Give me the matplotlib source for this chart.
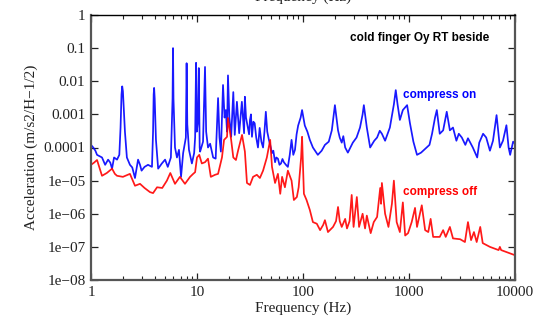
import matplotlib
matplotlib.use("Agg")
import matplotlib.pyplot as plt
from matplotlib.ticker import LogLocator, FixedLocator, FixedFormatter, NullFormatter

# Acceleration spectrum, compressor running
freq_on = [1.0, 1.05, 1.1, 1.14, 1.2, 1.27, 1.36, 1.45, 1.52, 1.58, 1.65, 1.76, 1.85,
           1.9, 1.94, 1.97, 2.0, 2.04, 2.09, 2.18, 2.33, 2.45, 2.6, 2.78, 2.9, 3.0, 3.2,
           3.45, 3.76, 3.85, 3.9, 3.94, 3.99, 4.1, 4.3, 4.66, 5.0, 5.3, 5.67, 5.88, 5.94,
           6.0, 6.2, 6.47, 6.76, 7.07, 7.4, 7.85, 7.98, 8.1, 8.4, 8.95, 9.4, 9.6, 9.8,
           9.95, 10.2, 10.4, 10.6, 10.7, 11.4, 11.9, 12.2, 12.7, 13.3, 14.2, 15.0, 15.8,
           16.3, 16.8, 17.6, 18.2, 18.7, 19.2, 19.6, 20.2, 21.0, 22.0, 22.7, 23.8, 25.0,
           26.5, 27.8, 28.3, 29.0, 30.2, 31.0, 31.6, 32.3, 33.0, 34.0, 35.0, 36.2, 37.6,
           39.0, 40.5, 42.0, 43.3, 44.6, 46.0, 47.7, 49.0, 51.0, 52.5, 54.5, 56.0, 58.0,
           60.0, 62.0, 64.0, 66.0, 69.0, 72.0, 75.0, 78.0, 81.0, 84.0, 87.0, 90.0, 95.0,
           98.0, 104.0, 110.0, 116.0, 124.0, 130.0, 138.0, 150.0, 161.0, 175.0, 187.0,
           195.0, 200.0, 207.0, 214.0, 222.0, 232.0, 240.0, 250.0, 265.0, 280.0, 295.0,
           320.0, 345.0, 365.0, 375.0, 385.0, 400.0, 430.0, 470.0, 500.0, 530.0, 555.0,
           595.0, 660.0, 720.0, 750.0, 780.0, 820.0, 875.0, 960.0, 1020.0, 1100.0,
           1190.0, 1300.0, 1470.0, 1560.0, 1650.0, 1760.0, 1830.0, 1950.0, 2100.0,
           2270.0, 2430.0, 2600.0, 2800.0, 2950.0, 3150.0, 3400.0, 3600.0, 4000.0,
           4400.0, 4600.0, 5000.0, 5350.0, 5800.0, 6200.0, 6700.0, 7200.0, 7700.0,
           8300.0, 8700.0, 9000.0, 9600.0, 10000.0]
accel_on = [1.2e-4, 1.0e-4, 8e-5, 6e-5, 5.5e-5, 5e-5, 3e-5, 4.3e-5, 3.5e-5, 2.3e-5, 5e-5,
            4.3e-5, 6e-5, 4e-4, 4e-3, 7e-3, 5e-3, 1.5e-3, 3e-4, 5e-5, 3e-5, 2.5e-5,
            1.2e-5, 4.3e-5, 3e-5, 2e-5, 2.6e-5, 3e-5, 2.6e-5, 3e-4, 4e-3, 6.3e-3, 3e-3,
            1.7e-4, 2.3e-5, 3.3e-5, 4.3e-5, 2.6e-5, 5e-5, 3e-3, 0.1, 3e-3, 1e-4, 5e-5,
            8.5e-5, 1.3e-5, 6.8e-5, 2e-4, 0.035, 5e-4, 8.5e-5, 3.3e-5, 6.8e-5, 2e-4,
            0.036, 3e-4, 6e-4, 0.025, 1e-4, 7.5e-5, 1.5e-4, 0.027, 3e-4, 1e-4, 1.3e-4,
            5e-5, 4.6e-5, 3.1e-3, 2e-4, 7.5e-5, 7.7e-3, 8e-4, 1.35e-3, 3e-4, 0.015, 8e-4,
            2.1e-4, 4.7e-3, 2.4e-4, 2.4e-3, 2.7e-4, 2.4e-3, 2.7e-4, 3.4e-3, 8e-4, 3.9e-4,
            2.5e-4, 6.8e-4, 1e-3, 2.1e-4, 6e-4, 5.4e-4, 2e-4, 1e-4, 3.9e-4, 1.5e-4, 1e-4,
            3e-4, 1.2e-3, 3e-4, 1.7e-4, 1.2e-4, 6.8e-5, 8e-5, 3.6e-5, 5e-5, 4.6e-5, 3e-5,
            3.3e-5, 4.5e-5, 3.6e-5, 3e-5, 2.6e-5, 6e-5, 1.7e-4, 6e-5, 8.5e-5, 2.5e-4,
            4.6e-4, 8e-4, 1.35e-3, 4.6e-4, 3e-4, 1.7e-4, 1e-4, 8e-5, 6e-5, 8e-5, 1.2e-4,
            1.5e-4, 3.3e-4, 1e-3, 1.9e-3, 8e-4, 3.3e-4, 2e-4, 1.4e-4, 2.2e-4, 1e-4, 7e-5,
            1e-4, 1.4e-4, 2e-4, 4e-4, 1e-3, 1.9e-3, 1e-3, 4e-4, 1e-4, 1.6e-4, 2e-4,
            3.2e-4, 2.6e-4, 1.6e-4, 4e-4, 2e-3, 5.4e-3, 2e-3, 6.8e-4, 1.35e-3, 1.9e-3,
            5.5e-4, 1.5e-4, 6e-5, 7e-5, 1e-4, 1.2e-4, 2.6e-4, 8e-4, 1.35e-3, 2.6e-4,
            3.3e-4, 1.2e-3, 3.3e-4, 4e-4, 1.6e-4, 2.6e-4, 2e-4, 1.2e-4, 1.9e-4, 1e-4,
            5e-5, 1.4e-4, 2.6e-4, 2e-4, 8e-5, 1.6e-4, 9.5e-4, 1e-4, 1.6e-4, 4.7e-4, 1e-4,
            6e-5, 1.5e-4, 1.3e-4]

# Acceleration spectrum, compressor stopped
freq_off = [1.0, 1.07, 1.14, 1.2, 1.27, 1.41, 1.58, 1.68, 1.76, 2.0, 2.33, 2.6, 2.9, 3.2,
            3.6, 3.85, 4.2, 4.7, 5.2, 5.6, 6.2, 6.9, 7.7, 8.6, 9.2, 9.6, 10.0, 10.5, 11.1,
            11.9, 12.7, 13.5, 14.8, 15.8, 17.2, 18.0, 19.2, 19.6, 21.0, 22.0, 23.3, 24.5,
            25.5, 26.6, 28.3, 29.6, 31.6, 33.8, 36.7, 39.2, 42.0, 45.6, 49.0, 51.0, 54.5,
            58.0, 61.0, 63.5, 67.5, 72.0, 78.0, 82.0, 87.5, 91.0, 96.0, 98.0, 100.0,
            102.0, 108.0, 116.0, 124.0, 135.0, 145.0, 155.0, 161.0, 172.0, 192.0, 205.0,
            214.0, 222.0, 232.0, 250.0, 260.0, 275.0, 288.0, 300.0, 322.0, 338.0, 365.0,
            385.0, 400.0, 435.0, 465.0, 500.0, 535.0, 545.0, 555.0, 595.0, 640.0, 690.0,
            720.0, 765.0, 820.0, 875.0, 920.0, 980.0, 1060.0, 1140.0, 1190.0, 1320.0,
            1420.0, 1520.0, 1600.0, 1690.0, 1950.0, 2100.0, 2220.0, 2430.0, 2600.0,
            3040.0, 3370.0, 3600.0, 3850.0, 4100.0, 4350.0, 4700.0, 4960.0, 5800.0,
            7000.0, 7200.0, 7400.0, 10000.0]
accel_off = [3e-5, 3.5e-5, 4.2e-5, 2.5e-5, 1.4e-5, 1.7e-5, 2.3e-5, 1.6e-5, 1.4e-5, 1.3e-5,
             1.6e-5, 7e-6, 8e-6, 6e-6, 4.5e-6, 4.2e-6, 6.3e-6, 6e-6, 1e-5, 1.7e-5, 8e-6,
             1.3e-5, 8e-6, 1.3e-5, 1.6e-5, 1.8e-5, 5e-5, 6e-5, 3.3e-5, 3.6e-5, 4.6e-5,
             1.3e-5, 1.5e-5, 1.6e-5, 5e-5, 1.7e-4, 2.1e-4, 7.8e-4, 1.7e-4, 5e-5, 4.2e-5,
             8.5e-5, 1.4e-4, 2.4e-4, 7.5e-5, 8.5e-6, 7.4e-6, 1.3e-5, 1.5e-5, 1.2e-5, 2e-5,
             5e-5, 1.7e-4, 2.6e-5, 8.5e-6, 1.6e-5, 4e-6, 1.3e-5, 6.3e-6, 2e-5, 1e-5,
             2.6e-6, 3.2e-6, 6.3e-6, 5e-5, 2.1e-4, 3e-5, 4e-6, 2.6e-6, 1.3e-6, 5.6e-7,
             5e-7, 3.2e-7, 4.6e-7, 6.4e-7, 2.8e-7, 4e-7, 6e-7, 1.6e-6, 6e-7, 4e-7, 7e-7,
             3.6e-7, 6e-7, 3.7e-6, 4e-7, 3.2e-6, 4e-7, 1e-6, 3.6e-7, 8.8e-7, 2.6e-7,
             5.6e-7, 8e-7, 6e-6, 2e-6, 8.5e-6, 1e-6, 4e-7, 2e-6, 1e-5, 5.6e-7, 2.8e-7,
             2.2e-6, 2.2e-7, 2.6e-7, 5.6e-7, 1.5e-6, 4e-7, 1.8e-6, 3.2e-7, 2.8e-7, 7e-7,
             2e-7, 2e-7, 3.2e-7, 2e-7, 4e-7, 1.8e-7, 1.7e-7, 1.4e-7, 5.6e-7, 1.6e-7,
             2.8e-7, 1.4e-7, 4e-7, 1.3e-7, 1e-7, 8e-8, 1e-7, 8e-8, 5.6e-8]

x_ticks = [1, 10, 100, 1000, 10000]
x_tick_labels = ["1", "10", "100", "1000", "10000"]
y_ticks = [1, 0.1, 0.01, 0.001, 0.0001, 1e-5, 1e-6, 1e-7, 1e-8]
y_tick_labels = ["1", "0.1", "0.01", "0.001", "0.0001",
                 "1e\u221205", "1e\u221206", "1e\u221207", "1e\u221208"]

serif = ["Liberation Serif", "DejaVu Serif"]
sans = ["Liberation Sans", "DejaVu Sans"]

fig = plt.figure(figsize=(5.37, 3.21), dpi=100)
ax = fig.add_axes([91 / 537, 1 - 280 / 321, (515 - 91) / 537, (280 - 15) / 321])

ax.plot(freq_on, accel_on, color="#0000ff", lw=1.25, alpha=0.9)
ax.plot(freq_off, accel_off, color="#ff0000", lw=1.25, alpha=0.9)

ax.set_xscale("log")
ax.set_yscale("log")
ax.set_xlim(1, 10000)
ax.set_ylim(1e-8, 1)

ax.xaxis.set_major_locator(FixedLocator(x_ticks))
ax.xaxis.set_major_formatter(FixedFormatter(x_tick_labels))
ax.xaxis.set_minor_locator(LogLocator(base=10, subs=range(2, 10)))
ax.xaxis.set_minor_formatter(NullFormatter())
ax.yaxis.set_major_locator(FixedLocator(y_ticks))
ax.yaxis.set_major_formatter(FixedFormatter(y_tick_labels))
ax.yaxis.set_minor_locator(LogLocator(base=10, subs=[2, 5]))
ax.yaxis.set_minor_formatter(NullFormatter())

ax.tick_params(which="both", direction="in", top=True, right=True, colors="#222222",
               labelcolor="#222222")
ax.tick_params(which="major", length=5, width=0.9, labelsize=11, pad=4)
ax.tick_params(which="minor", length=3, width=0.8)
for lab in ax.get_xticklabels() + ax.get_yticklabels():
    lab.set_family(serif)

for side in ("left", "bottom", "right"):
    ax.spines[side].set_color("#555555")
    ax.spines[side].set_linewidth(1.6)
ax.spines["top"].set_color("black")
ax.spines["top"].set_linewidth(1.0)

ax.set_xlabel("Frequency (Hz)", family=serif, fontsize=11, color="#222222", labelpad=2)
ax.set_ylabel("Acceleration (m/s2/H\u22121/2)", family=serif, fontsize=11,
              color="#222222", labelpad=4)

# Top axis caption, partially above the canvas
fig.text(303 / 537, 1 + 3 / 321, "Frequency (Hz)", family=serif, fontsize=11,
         color="#222222", ha="center", va="center")

fig.text(420 / 537, 1 - 38 / 321, "cold finger Oy RT beside", family=sans,
         fontweight="bold", fontsize=8.5, color="black", ha="center", va="center")
fig.text(440 / 537, 1 - 95 / 321, "compress on", family=sans, fontweight="bold",
         fontsize=8.5, color="#0000ff", ha="center", va="center")
fig.text(440 / 537, 1 - 192 / 321, "compress off", family=sans, fontweight="bold",
         fontsize=8.5, color="#ff0000", ha="center", va="center")

fig.savefig("out.png", dpi=100)
